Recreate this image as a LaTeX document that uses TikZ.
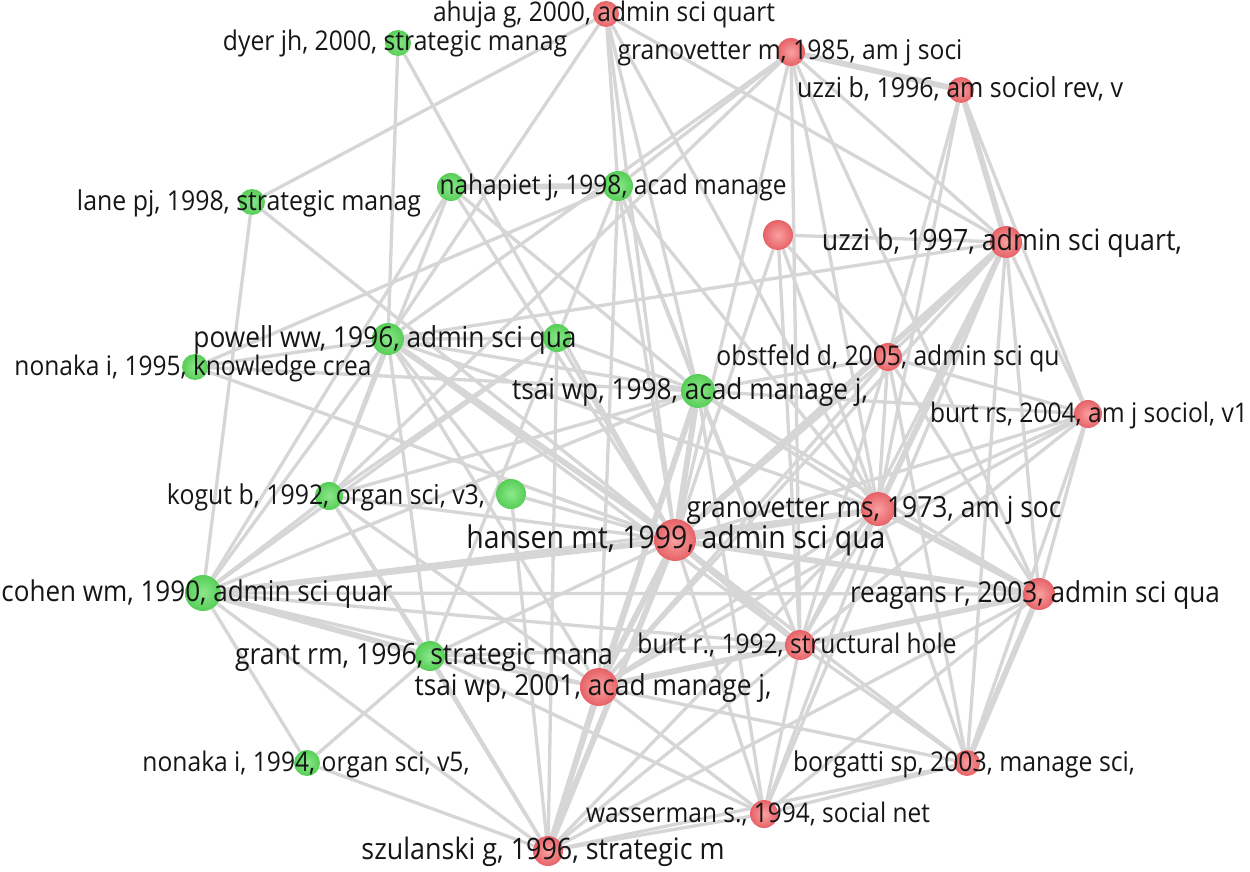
\documentclass[tikz,border=0pt]{standalone}
\usepackage{graphicx}
\usepackage{fontspec}
\setmainfont{Open Sans}
\usetikzlibrary{backgrounds}
\definecolor{edgec}{RGB}{214,214,214}
\definecolor{gin}{RGB}{140,232,140}
\definecolor{gout}{RGB}{86,206,86}
\definecolor{rin}{RGB}{250,160,160}
\definecolor{rout}{RGB}{230,98,103}
\definecolor{txt}{RGB}{22,22,22}
\tikzset{
  gnode/.style={circle, inner sep=0pt, shade, inner color=gin, outer color=gout, minimum size=#1},
  rnode/.style={circle, inner sep=0pt, shade, inner color=rin, outer color=rout, minimum size=#1},
  labs/.style={text=txt, inner sep=0pt, anchor=base, font=\fontsize{25}{25}\selectfont},
  e/.style={draw=edgec, line width=3.3pt},
  et/.style={draw=edgec, line width=5.8pt},
}
\newcommand\lab[5]{% node, centre x, y, width, text
  \node[labs] (l#1) at (#2,{#3+8}) {\resizebox{#4pt}{!}{\scalebox{1}[1.1]{#5}}};}
\begin{document}
\begin{tikzpicture}[x=1pt,y=-1pt]
\useasboundingbox (0,0) rectangle (1250,872);
% nodes
\node[rnode=26pt] (ahuja) at (606,14) {};
\node[gnode=26pt] (dyer) at (398,43) {};
\node[rnode=28pt] (gra85) at (791,52) {};
\node[rnode=26pt] (uzz96) at (961,90) {};
\node[gnode=28pt] (gn0) at (451,187) {};
\node[gnode=30pt] (nah) at (618,186) {};
\node[gnode=26pt] (lane) at (252,202) {};
\node[rnode=30pt] (rn0) at (778,235) {};
\node[rnode=32pt] (uzz97) at (1006,242) {};
\node[gnode=32pt] (powell) at (388,339) {};
\node[gnode=28pt] (gn1) at (557,338) {};
\node[gnode=26pt] (non95) at (195,367) {};
\node[rnode=28pt] (obst) at (888,357) {};
\node[gnode=34pt] (tsai98) at (698,391) {};
\node[rnode=28pt] (burtrs) at (1088,414) {};
\node[gnode=28pt] (kogut) at (329,496) {};
\node[gnode=30pt] (gn2) at (511,494) {};
\node[rnode=34pt] (gra73) at (878,509) {};
\node[rnode=42pt] (hansen) at (675,540) {};
\node[gnode=36pt] (cohen) at (203,593) {};
\node[rnode=32pt] (reag) at (1039,594) {};
\node[rnode=30pt] (burt92) at (800,645) {};
\node[gnode=30pt] (grant) at (430,656) {};
\node[rnode=38pt] (tsai01) at (599,687) {};
\node[gnode=26pt] (non94) at (307,763) {};
\node[rnode=26pt] (borg) at (967,763) {};
\node[rnode=28pt] (wass) at (764,814) {};
\node[rnode=30pt] (szul) at (548,851) {};
% edges
\begin{scope}[on background layer]
\fill[white] (0,0) rectangle (1250,872);
\foreach \a/\b in {dyer/powell, dyer/hansen, lane/ahuja, lane/cohen, lane/hansen, non95/nah, non95/hansen, non95/tsai98,
 ahuja/powell, ahuja/nah, ahuja/hansen, ahuja/uzz97, ahuja/gra73, ahuja/tsai98,
 gra85/uzz97, gra85/nah, gra85/powell, gra85/kogut, gra85/hansen, gra85/burt92, gra85/reag, gra85/gra73,
 uzz96/burtrs, uzz96/obst, uzz96/gra73, gn0/tsai98, gn0/hansen, gn0/cohen,
 nah/tsai98, nah/hansen, nah/gra73, nah/grant, nah/tsai01, nah/burt92,
 rn0/uzz97, rn0/obst, rn0/burt92, rn0/gra73, rn0/hansen,
 uzz97/powell, uzz97/obst, uzz97/burt92, uzz97/burtrs, uzz97/reag, uzz97/borg, uzz97/tsai01, uzz97/wass,
 powell/gn1, powell/non95, powell/tsai98, powell/kogut, powell/cohen, powell/tsai01, powell/grant, powell/burt92, powell/gra73,
 gn1/tsai98, gn1/hansen, gn1/szul, gn1/cohen,
 obst/tsai98, obst/hansen, obst/gra73, obst/burtrs, obst/reag, obst/burt92, obst/borg, obst/tsai01,
 tsai98/szul, tsai98/wass, tsai98/burt92, tsai98/gra73, tsai98/reag, tsai98/burtrs, tsai98/kogut, tsai98/cohen,
 burtrs/gra73, burtrs/reag, burtrs/hansen, burtrs/burt92, burtrs/borg, burtrs/tsai01,
 kogut/cohen, kogut/hansen, kogut/grant, kogut/tsai01, kogut/szul, kogut/gn0, kogut/gn1,
 gn2/powell, gn2/hansen, gn2/szul,
 gra73/burt92, gra73/borg, gra73/wass, gra73/szul, gra73/tsai01, gra73/cohen,
 hansen/borg, hansen/wass, hansen/grant,
 cohen/reag, cohen/burt92, cohen/tsai01, cohen/szul, cohen/non94,
 reag/wass, reag/szul, burt92/borg, burt92/wass, burt92/szul, burt92/tsai01, burt92/grant,
 grant/tsai01, grant/szul, grant/non94, tsai01/wass, tsai01/borg, non94/szul, wass/szul, wass/borg, borg/szul, wass/grant}
  {\draw[e] (\a) -- (\b);}
\foreach \a/\b in {gra85/uzz96, uzz96/uzz97, gn0/nah, uzz97/gra73, uzz97/hansen, powell/hansen, tsai98/hansen, tsai98/tsai01,
 gra73/hansen, gra73/reag, hansen/reag, hansen/burt92, hansen/tsai01, hansen/szul, hansen/cohen, reag/borg, reag/tsai01,
 tsai01/szul, cohen/grant}
  {\draw[et] (\a) -- (\b);}
\end{scope}
% labels
\lab{ahuja}{604}{14}{342}{ahuja g, 2000, admin sci quart}
\lab{dyer}{395}{43}{344}{dyer jh, 2000, strategic manag}
\lab{gra85}{790}{52}{345}{granovetter m, 1985, am j soci}
\lab{uzz96}{960}{90}{326}{uzzi b, 1996, am sociol rev, v}
\lab{nah}{613}{186}{347}{nahapiet j, 1998, acad manage}
\lab{lane}{249}{202}{344}{lane pj, 1998, strategic manag}
\lab{uzz97}{1002}{242}{360}{uzzi b, 1997, admin sci quart,}
\lab{powell}{385}{339}{383}{powell ww, 1996, admin sci qua}
\lab{non95}{193}{367}{357}{nonaka i, 1995, knowledge crea}
\lab{tsai98}{690}{391}{356}{tsai wp, 1998, acad manage j,}
\lab{obst}{888}{357}{343}{obstfeld d, 2005, admin sci qu}
\lab{burtrs}{1089}{414}{318}{burt rs, 2004, am j sociol, v1}
\lab{kogut}{326}{496}{318}{kogut b, 1992, organ sci, v3,}
\lab{gra73}{874}{509}{375}{granovetter ms, 1973, am j soc}
\lab{hansen}{676}{540}{419}{hansen mt, 1999, admin sci qua}
\lab{cohen}{197}{593}{391}{cohen wm, 1990, admin sci quar}
\lab{reag}{1035}{594}{370}{reagans r, 2003, admin sci qua}
\lab{burt92}{797}{645}{319}{burt r., 1992, structural hole}
\lab{grant}{424}{656}{378}{grant rm, 1996, strategic mana}
\lab{tsai01}{593}{687}{357}{tsai wp, 2001, acad manage j,}
\lab{non94}{306}{763}{327}{nonaka i, 1994, organ sci, v5,}
\lab{borg}{964}{763}{342}{borgatti sp, 2003, manage sci,}
\lab{wass}{758}{814}{344}{wasserman s., 1994, social net}
\lab{szul}{543}{851}{363}{szulanski g, 1996, strategic m}
\end{tikzpicture}
\end{document}
